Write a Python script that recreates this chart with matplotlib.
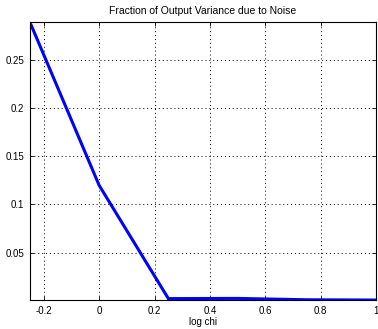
import matplotlib
matplotlib.use("Agg")
import matplotlib.pyplot as plt

plt.rcParams['font.family'] = ['Liberation Sans', 'DejaVu Sans']

# Values
log_chi = [-0.25, 0.0, 0.25, 0.5, 0.75, 1.0]
noise_fraction = [0.290, 0.120, 0.0020, 0.0022, 0.0008, 0.0005]
x_ticks = [-0.2, 0, 0.2, 0.4, 0.6, 0.8, 1]
x_tick_labels = ["-0.2", "0", "0.2", "0.4", "0.6", "0.8", "1"]
y_ticks = [0.05, 0.1, 0.15, 0.2, 0.25]
y_tick_labels = ["0.05", "0.1", "0.15", "0.2", "0.25"]

fig = plt.figure(figsize=(3.78, 3.29), dpi=100)
ax = fig.add_axes([0.079, 0.088, 0.916, 0.845])
ax.plot(log_chi, noise_fraction, color="#0000ff", linewidth=2.2, solid_joinstyle="miter")
ax.set_xlim(min(log_chi), max(log_chi))
ax.set_ylim(min(noise_fraction), max(noise_fraction))
ax.set_xticks(x_ticks)
ax.set_xticklabels(x_tick_labels)
ax.set_yticks(y_ticks)
ax.set_yticklabels(y_tick_labels)
ax.tick_params(direction="in", labelsize=7, length=3, width=0.6, top=True, right=True, pad=4)
ax.grid(True, color="black", linestyle=(0, (1, 3)), linewidth=0.7)
for s in ax.spines.values():
    s.set_linewidth(0.8)
ax.set_title("Fraction of Output Variance due to Noise", fontsize=7.5, pad=6)
ax.set_xlabel("log chi", fontsize=7, labelpad=1)
fig.savefig("out.png", dpi=100)
